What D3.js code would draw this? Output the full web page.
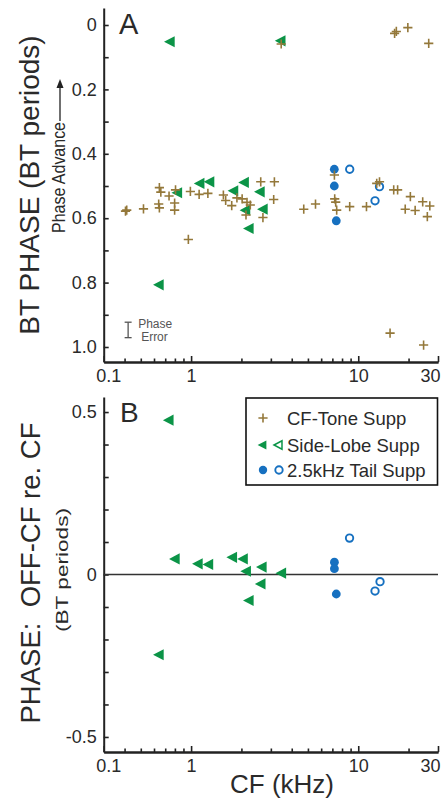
<!DOCTYPE html>
<html>
<head>
<meta charset="utf-8">
<script src="https://cdn.jsdelivr.net/npm/d3@7"></script>
<style>
  body { margin: 0; background: #fff; }
  svg { display: block; }
  text { font-family: "Liberation Sans", Arial, sans-serif; fill: #2a2a2a; }
</style>
</head>
<body>
<div id="chart"></div>
<script>
// ─── data (CF in kHz, phase in BT periods) ───────────────────────────
const toneA = [
  [0.412, 0.575], [0.405, 0.578], [0.519, 0.571], [0.646, 0.505], [0.659, 0.519],
  [0.646, 0.568], [0.640, 0.556], [0.738, 0.531], [0.807, 0.512], [0.797, 0.553],
  [0.797, 0.575], [0.963, 0.666], [0.990, 0.517], [1.117, 0.526], [1.26, 0.523],
  [1.56, 0.528], [1.61, 0.545], [1.75, 0.561], [1.88, 0.537], [2.02, 0.540],
  [2.16, 0.551], [2.26, 0.559], [2.13, 0.590], [2.61, 0.487], [3.15, 0.487],
  [3.12, 0.542], [2.69, 0.598], [4.72, 0.572], [5.55, 0.556], [7.20, 0.466],
  [7.23, 0.540], [7.33, 0.550], [7.43, 0.575], [8.89, 0.564], [11.2, 0.564],
  [13.4, 0.487], [12.9, 0.492], [16.3, 0.512], [17.2, 0.512], [20.5, 0.533],
  [19.1, 0.572], [21.9, 0.576], [24.3, 0.549], [26.8, 0.562], [25.9, 0.595],
  [3.46, 0.059], [16.5, 0.026], [16.9, 0.020], [19.8, 0.008], [26.4, 0.057],
  [15.5, 0.957], [24.6, 0.994],
];
const sideLobeA = [
  [0.741, 0.052], [3.41, 0.049], [0.821, 0.521], [1.117, 0.492], [1.28, 0.487],
  [1.78, 0.515], [2.06, 0.489], [2.56, 0.518], [2.10, 0.575], [2.67, 0.572],
  [2.20, 0.632], [0.637, 0.807],
];
const tailFilledA = [[7.19, 0.448], [7.19, 0.500], [7.39, 0.608]];
const tailOpenA = [[8.89, 0.448], [13.4, 0.502], [12.6, 0.546]];

const sideLobeB = [
  [0.73, 0.475], [0.794, 0.048], [1.09, 0.033], [1.26, 0.031], [1.75, 0.053],
  [2.03, 0.048], [2.12, 0.010], [2.63, 0.023], [2.59, -0.029], [2.20, -0.080],
  [3.44, 0.004], [0.637, -0.247],
];
const tailFilledB = [[7.2, 0.038], [7.2, 0.018], [7.39, -0.060]];
const tailOpenB = [[8.87, 0.112], [13.5, -0.022], [12.6, -0.051]];

const phaseError = { cf: 0.42, phase: 0.947, half: 0.024 };

const xMajorTicks = [0.3, 1, 10, 30];
const xMajorLabels = ["0.1", "1", "10", "30"];
const xMinorTicks = [0.4, 0.5, 0.6, 0.7, 0.8, 0.9, 2, 3, 4, 5, 6, 7, 8, 9, 20];
const yATicks = [0, 0.1, 0.2, 0.3, 0.4, 0.5, 0.6, 0.7, 0.8, 0.9, 1.0];
const yALabels = ["0", "", "0.2", "", "0.4", "", "0.6", "", "0.8", "", "1.0"];
const yBTicks = [-0.5, -0.4, -0.3, -0.2, -0.1, 0, 0.1, 0.2, 0.3, 0.4, 0.5];
const yBLabels = ["-0.5", "", "", "", "", "0", "", "", "", "", "0.5"];

const legendItems = ["CF-Tone Supp", "Side-Lobe Supp", "2.5kHz Tail Supp"];

const TONE = "#94783a";
const GREEN = "#0b9447";
const BLUE = "#1670c0";
const AXIS = "#222";

// ─── scales ──────────────────────────────────────────────────────────
const W = 443, H = 802;
const x = d3.scaleLog().domain([0.3, 30]).range([103.7, 438]);
const yA = d3.scaleLinear().domain([-0.0528, 1.0466]).range([8, 362]);
const yB = d3.scaleLinear().domain([-0.5463, 0.5463]).range([752, 397]);

const svg = d3.select("#chart").append("svg")
  .attr("width", W).attr("height", H)
  .attr("viewBox", `0 0 ${W} ${H}`);

const tri = (s) => `M ${-s * 0.95},0 L ${s * 0.95},${-s} L ${s * 0.95},${s} Z`;
const plus = (s) => `M ${-s},0 H ${s} M 0,${-s} V ${s}`;

function drawAxes(y, ticks, labels, baseY) {
  const xMinor = d3.axisBottom(x).tickValues(xMinorTicks)
    .tickSizeInner(-3.5).tickSizeOuter(0).tickFormat("");
  const xMajor = d3.axisBottom(x).tickValues(xMajorTicks)
    .tickSizeInner(-6).tickSizeOuter(0).tickPadding(7)
    .tickFormat((d, i) => xMajorLabels[i]);
  const gx1 = svg.append("g").attr("transform", `translate(0,${baseY})`).call(xMinor);
  const gx2 = svg.append("g").attr("transform", `translate(0,${baseY})`).call(xMajor);
  for (const g of [gx1, gx2]) {
    g.select(".domain").attr("stroke", AXIS).attr("stroke-width", 2);
    g.selectAll(".tick line").attr("stroke", AXIS).attr("stroke-width", 1.6);
  }
  gx2.selectAll(".tick text")
    .attr("font-size", 18).attr("fill", "#2a2a2a")
    .attr("font-family", '"Liberation Sans", Arial, sans-serif')
    .attr("text-anchor", (d, i) => i === 0 ? "start" : i === xMajorTicks.length - 1 ? "end" : "middle")
    .attr("dx", (d, i) => i === 0 ? -8 : i === xMajorTicks.length - 1 ? 2 : 0);

  const ay = d3.axisLeft(y).tickValues(ticks)
    .tickSizeInner(-5).tickSizeOuter(0).tickPadding(7)
    .tickFormat((d, i) => labels[i]);
  const gy = svg.append("g").attr("transform", `translate(${x.range()[0]},0)`).call(ay);
  gy.select(".domain").attr("stroke", AXIS).attr("stroke-width", 2);
  gy.selectAll(".tick line").attr("stroke", AXIS).attr("stroke-width", 1.6);
  gy.selectAll(".tick text")
    .attr("font-size", 18).attr("fill", "#2a2a2a")
    .attr("font-family", '"Liberation Sans", Arial, sans-serif');
}

function drawPoints(y, tone, side, filled, open) {
  const g = svg.append("g");
  g.selectAll("path.side").data(side).join("path")
    .attr("class", "side")
    .attr("transform", (d) => `translate(${x(d[0])},${y(d[1])})`)
    .attr("d", tri(5.6))
    .attr("fill", GREEN);
  g.selectAll("circle.filled").data(filled).join("circle")
    .attr("class", "filled")
    .attr("cx", (d) => x(d[0])).attr("cy", (d) => y(d[1]))
    .attr("r", 4.4).attr("fill", BLUE);
  g.selectAll("circle.open").data(open).join("circle")
    .attr("class", "open")
    .attr("cx", (d) => x(d[0])).attr("cy", (d) => y(d[1]))
    .attr("r", 3.7).attr("fill", "#fff").attr("stroke", BLUE).attr("stroke-width", 1.9);
  g.selectAll("path.tone").data(tone).join("path")
    .attr("class", "tone")
    .attr("transform", (d) => `translate(${x(d[0])},${y(d[1])})`)
    .attr("d", plus(4.6))
    .attr("fill", "none").attr("stroke", TONE).attr("stroke-width", 1.6);
}

// ─── panel A ─────────────────────────────────────────────────────────
drawAxes(yA, yATicks, yALabels, 362);
drawPoints(yA, toneA, sideLobeA, tailFilledA, tailOpenA);

svg.append("text").attr("x", 119).attr("y", 34)
  .attr("font-size", 29).text("A");

// phase error bar
const pe = svg.append("g").attr("stroke", "#555").attr("stroke-width", 1.3);
const pex = x(phaseError.cf);
pe.append("line").attr("x1", pex).attr("x2", pex)
  .attr("y1", yA(phaseError.phase - phaseError.half))
  .attr("y2", yA(phaseError.phase + phaseError.half));
for (const v of [phaseError.phase - phaseError.half, phaseError.phase + phaseError.half]) {
  pe.append("line").attr("x1", pex - 3.5).attr("x2", pex + 3.5)
    .attr("y1", yA(v)).attr("y2", yA(v));
}
svg.append("text").attr("x", pex + 10).attr("y", yA(phaseError.phase) - 2)
  .attr("font-size", 12).style("fill", "#555").text("Phase");
svg.append("text").attr("x", pex + 13).attr("y", yA(phaseError.phase) + 11)
  .attr("font-size", 12).style("fill", "#555").text("Error");

// y titles, panel A
svg.append("text")
  .attr("transform", "translate(39,185) rotate(-90)")
  .attr("text-anchor", "middle").attr("font-size", 28)
  .text("BT PHASE (BT periods)");
svg.append("text")
  .attr("transform", "translate(65,233) rotate(-90)")
  .attr("text-anchor", "start").attr("font-size", 17.5)
  .attr("textLength", 111).attr("lengthAdjust", "spacingAndGlyphs")
  .text("Phase Advance");
svg.append("line")
  .attr("x1", 60).attr("x2", 60).attr("y1", 121).attr("y2", 86)
  .attr("stroke", "#222").attr("stroke-width", 1.3);
svg.append("path")
  .attr("d", "M 60,79 L 56.5,88 L 63.5,88 Z").attr("fill", "#222");

// ─── panel B ─────────────────────────────────────────────────────────
drawAxes(yB, yBTicks, yBLabels, 752);
svg.append("line")
  .attr("x1", x.range()[0]).attr("x2", x.range()[1])
  .attr("y1", yB(0)).attr("y2", yB(0))
  .attr("stroke", "#333").attr("stroke-width", 1.5);
drawPoints(yB, [], sideLobeB, tailFilledB, tailOpenB);

svg.append("text").attr("x", 120).attr("y", 422)
  .attr("font-size", 28).text("B");

// legend
const lg = svg.append("g");
lg.append("rect").attr("x", 246).attr("y", 398).attr("width", 191.5).attr("height", 87)
  .attr("fill", "#fff").attr("stroke", "#111").attr("stroke-width", 1.6);
const rowY = [418, 445, 470];
lg.selectAll("text.item").data(legendItems).join("text")
  .attr("class", "item")
  .attr("x", 287).attr("y", (d, i) => rowY[i] + 6.5)
  .attr("font-size", 18.5).text((d) => d);
lg.append("path").attr("transform", `translate(263,${rowY[0]})`)
  .attr("d", plus(4.6)).attr("fill", "none").attr("stroke", TONE).attr("stroke-width", 1.6);
lg.append("path").attr("transform", `translate(262,${rowY[1]})`)
  .attr("d", tri(4.6)).attr("fill", GREEN);
lg.append("path").attr("transform", `translate(278,${rowY[1]})`)
  .attr("d", tri(4.2)).attr("fill", "#fff").attr("stroke", GREEN).attr("stroke-width", 1.5);
lg.append("circle").attr("cx", 263).attr("cy", rowY[2]).attr("r", 4.2).attr("fill", BLUE);
lg.append("circle").attr("cx", 279).attr("cy", rowY[2]).attr("r", 3.7)
  .attr("fill", "#fff").attr("stroke", BLUE).attr("stroke-width", 1.9);

// y titles, panel B
svg.append("text")
  .attr("transform", "translate(40,573) rotate(-90)")
  .attr("text-anchor", "middle").attr("font-size", 27.5)
  .attr("xml:space", "preserve")
  .text("PHASE:  OFF-CF re. CF");
svg.append("text")
  .attr("transform", "translate(68,570) rotate(-90)")
  .attr("text-anchor", "middle").attr("font-size", 17)
  .attr("textLength", 124).attr("lengthAdjust", "spacingAndGlyphs")
  .text("(BT periods)");

// x title
svg.append("text").attr("x", 282).attr("y", 793)
  .attr("text-anchor", "middle").attr("font-size", 26)
  .text("CF (kHz)");
</script>
</body>
</html>
